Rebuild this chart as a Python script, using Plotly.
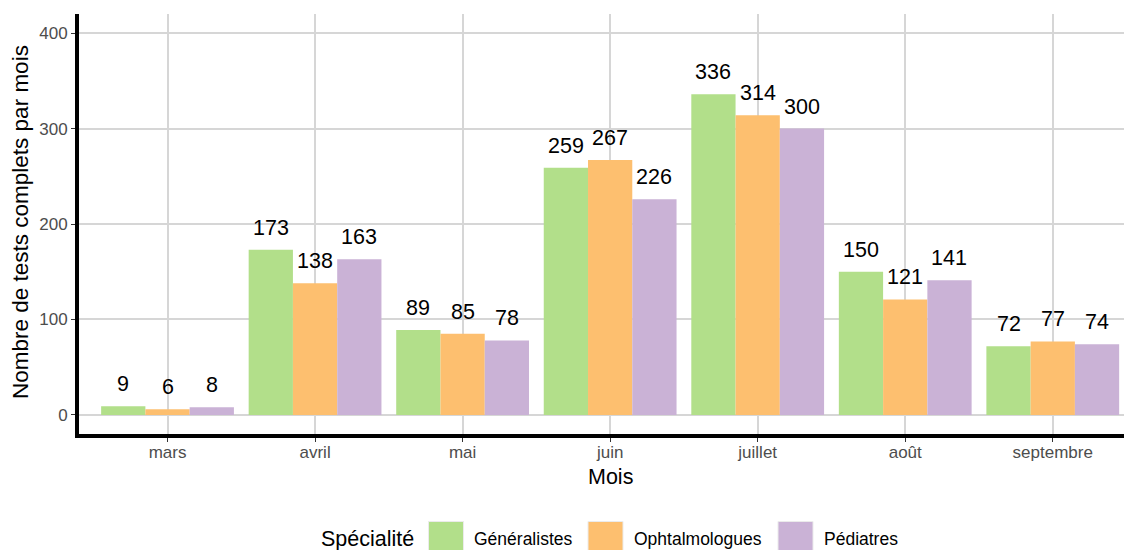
import plotly.graph_objects as go

months = ["mars", "avril", "mai", "juin", "juillet", "août", "septembre"]
series_names = ["Généralistes", "Ophtalmologues", "Pédiatres"]
generalistes = [9, 173, 89, 259, 336, 150, 72]
ophtalmologues = [6, 138, 85, 267, 314, 121, 77]
pediatres = [8, 163, 78, 226, 300, 141, 74]
colors = ["#B2DF8A", "#FDBF6F", "#CAB2D6"]
y_ticks = [0, 100, 200, 300, 400]

# the page body adds an 8px offset; size the figure to fill the window exactly
OFF = 8
W, H = 1132 - OFF, 550 - OFF
ML, MR, MT, MB = 79 - OFF, 0, 14 - OFF, 116
PW = W - ML - MR
PH = H - MT - MB


def px_x(X):
    return (X - OFF - ML) / PW


def px_y(Y):
    return (H - MB - (Y - OFF)) / PH


FONT = "Liberation Sans, Arial, sans-serif"
values = [generalistes, ophtalmologues, pediatres]

fig = go.Figure()
for name, vals, col in zip(series_names, values, colors):
    fig.add_trace(go.Bar(x=months, y=vals, name=name, marker=dict(color=col, line=dict(width=0)),
                         showlegend=False))

annotations = []
offsets = [-0.3, 0.0, 0.3]
for vals, off in zip(values, offsets):
    for i, v in enumerate(vals):
        annotations.append(dict(x=i + off, y=v, xref="x", yref="y", text=str(v), showarrow=False,
                                yanchor="bottom", xanchor="center", yshift=8,
                                font=dict(family=FONT, size=21.5, color="black")))

# axis titles
annotations.append(dict(x=px_x(610.5), y=px_y(477), xref="paper", yref="paper", text="Mois",
                        showarrow=False, xanchor="center", yanchor="middle",
                        font=dict(family=FONT, size=21.5, color="black")))
annotations.append(dict(x=px_x(20), y=px_y(222), xref="paper", yref="paper",
                        text="Nombre de tests complets par mois", textangle=-90,
                        showarrow=False, xanchor="center", yanchor="middle",
                        font=dict(family=FONT, size=22.5, color="black")))

# manual legend
shapes = []
leg_y = 539
annotations.append(dict(x=px_x(319), y=px_y(leg_y), xref="paper", yref="paper", text="Spécialité",
                        showarrow=False, xanchor="left", yanchor="middle",
                        font=dict(family=FONT, size=21.5, color="black")))
key_x = [428.5, 588, 778]
text_x = [472, 632, 822]
for name, col, kx, tx in zip(series_names, colors, key_x, text_x):
    shapes.append(dict(type="rect", xref="paper", yref="paper",
                       x0=px_x(kx), x1=px_x(kx + 35), y0=px_y(leg_y + 17.5), y1=px_y(leg_y - 17.5),
                       fillcolor=col, line=dict(color="#ebebeb", width=1)))
    annotations.append(dict(x=px_x(tx), y=px_y(leg_y), xref="paper", yref="paper", text=name,
                            showarrow=False, xanchor="left", yanchor="middle",
                            font=dict(family=FONT, size=17.5, color="black")))

fig.update_layout(
    width=W, height=H,
    margin=dict(l=ML, r=MR, t=MT, b=MB, pad=0),
    paper_bgcolor="white", plot_bgcolor="white",
    barmode="group", bargap=0.1, bargroupgap=0,
    font=dict(family=FONT),
    annotations=annotations, shapes=shapes,
    showlegend=False,
)
fig.update_xaxes(type="category", categoryorder="array", categoryarray=months,
                 range=[-0.6, 6.537], showgrid=True, gridcolor="#d6d6d6", gridwidth=1.5,
                 showline=True, linecolor="black", linewidth=4,
                 ticks="outside", ticklen=4, tickcolor="#333333", tickwidth=1,
                 ticklabelstandoff=-4,
                 tickfont=dict(family=FONT, size=17, color="#4d4d4d"), zeroline=False)
fig.update_yaxes(range=[-20, 420], tickvals=y_ticks, showgrid=True, gridcolor="#d6d6d6", gridwidth=1.5,
                 showline=True, linecolor="black", linewidth=4,
                 ticks="outside", ticklen=4, tickcolor="#333333", tickwidth=1,
                 tickfont=dict(family=FONT, size=17, color="#4d4d4d"), zeroline=False)

fig.write_html("out.html")
